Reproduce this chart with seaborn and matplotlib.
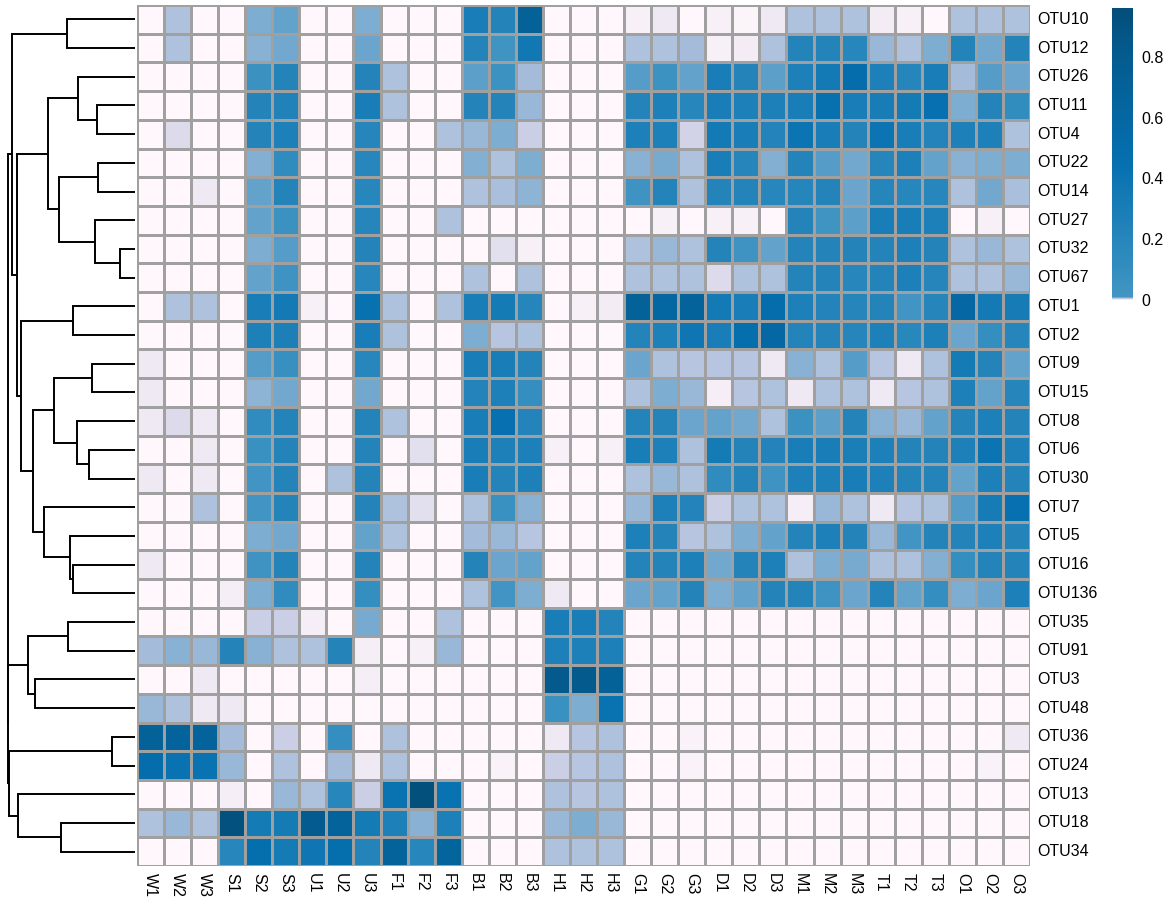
import matplotlib
matplotlib.use('Agg')
import matplotlib.pyplot as plt
import numpy as np
import pandas as pd
import seaborn as sns
from matplotlib.colors import LinearSegmentedColormap

sns.set_style('white')
plt.rcParams['font.family'] = ['Liberation Sans', 'DejaVu Sans']
plt.rcParams['text.color'] = 'black'
plt.rcParams['xtick.color'] = 'black'
plt.rcParams['ytick.color'] = 'black'

# samples (columns) and OTUs (rows, in dendrogram order)
samples = ['W1', 'W2', 'W3', 'S1', 'S2', 'S3', 'U1', 'U2', 'U3', 'F1', 'F2', 'F3',
           'B1', 'B2', 'B3', 'H1', 'H2', 'H3', 'G1', 'G2', 'G3', 'D1', 'D2', 'D3',
           'M1', 'M2', 'M3', 'T1', 'T2', 'T3', 'O1', 'O2', 'O3']
otus = ['OTU10', 'OTU12', 'OTU26', 'OTU11', 'OTU4', 'OTU22', 'OTU14', 'OTU27', 'OTU32',
        'OTU67', 'OTU1', 'OTU2', 'OTU9', 'OTU15', 'OTU8', 'OTU6', 'OTU30', 'OTU7', 'OTU5',
        'OTU16', 'OTU136', 'OTU35', 'OTU91', 'OTU3', 'OTU48', 'OTU36', 'OTU24', 'OTU13',
        'OTU18', 'OTU34']

# relative abundance, one row per OTU
#           W                  S                  U                  F                  B                  H                  G                  D                  M                  T                  O
abundance = [
    [0, .006, 0,       0, .008, .009,     0, 0, .008,        0, 0, 0,           .30, .22, .70,     0, 0, 0,           .001, .002, 0,     .001, .0005, .002, .006, .006, .006,  .0015, .001, 0,    .006, .006, .006],
    [0, .006, 0,       0, .0075, .0085,   0, 0, .0088,       0, 0, 0,           .22, .03, .36,     0, 0, 0,           .006, .006, .0065, .001, .0015, .006, .22, .22, .20,     .007, .006, .008,  .22, .0085, .22],
    [0, 0, 0,          0, .06, .22,       0, 0, .22,         .006, 0, 0,        .0092, .05, .0065, 0, 0, 0,           .0095, .05, .009,  .30, .22, .0093,   .27, .34, .50,     .27, .21, .30,     .0065, .0094, .0089],
    [0, 0, 0,          0, .22, .24,       0, 0, .30,         .006, 0, 0,        .22, .22, .007,    0, 0, 0,           .22, .27, .20,     .30, .27, .27,     .30, .44, .30,     .31, .33, .45,     .008, .22, .12],
    [0, .0035, 0,      0, .22, .26,       0, 0, .21,         0, 0, .006,        .007, .008, .0045, 0, 0, 0,           .27, .27, .004,    .34, .30, .23,     .40, .30, .22,     .40, .30, .23,     .27, .27, .006],
    [0, 0, 0,          0, .0078, .13,     0, 0, .20,         0, 0, 0,           .0078, .006, .008, 0, 0, 0,           .0075, .0084, .006, .30, .21, .0078, .22, .0094, .0085, .21, .27, .009,   .0075, .008, .008],
    [0, 0, .002,       0, .009, .22,      0, 0, .20,         0, 0, 0,           .006, .0062, .0073, 0, 0, 0,          .04, .22, .006,    .22, .22, .20,     .21, .22, .0088,   .21, .20, .20,     .006, .0086, .0063],
    [0, 0, 0,          0, .009, .06,      0, 0, .21,         0, 0, .006,        0, 0, 0,           0, 0, 0,           0, .001, 0,        .001, .001, 0,     .22, .03, .0093,   .30, .30, .27,     0, .001, 0],
    [0, 0, 0,          0, .008, .0094,    0, 0, .22,         0, 0, 0,           0, .003, .001,     0, 0, 0,           .006, .007, .006,  .22, .04, .009,    .22, .22, .22,     .22, .26, .22,     .006, .007, .006],
    [0, 0, 0,          0, .009, .04,      0, 0, .20,         0, 0, 0,           .006, 0, .006,     0, 0, 0,           .006, .006, .006,  .0035, .006, .006, .22, .22, .20,     .22, .26, .21,     .006, .006, .007],
    [0, .006, .006,    0, .30, .34,       .001, 0, .43,      .006, 0, .006,     .30, .33, .21,     0, .001, .0015,    .70, .60, .68,     .34, .30, .50,     .27, .23, .21,     .22, .02, .21,     .58, .34, .32],
    [0, 0, 0,          0, .27, .28,       0, 0, .30,         .006, 0, 0,        .008, .0055, .006, 0, 0, 0,           .22, .27, .38,     .30, .48, .58,     .22, .22, .21,     .27, .19, .27,     .0088, .10, .21],
    [.002, 0, 0,       0, .0094, .08,     0, 0, .20,         0, 0, 0,           .30, .30, .22,     0, 0, 0,           .0087, .006, .0055, .0055, .0055, .002, .0075, .006, .0094, .0055, .002, .006, .33, .22, .009],
    [.002, 0, 0,       0, .0074, .0086,   0, 0, .0086,       0, 0, 0,           .23, .27, .10,     0, 0, 0,           .006, .008, .007,  .0012, .0055, .006, .002, .006, .006,  .002, .0055, .006, .27, .009, .21],
    [.002, .0035, .002, 0, .13, .22,      0, 0, .22,         .006, 0, 0,        .30, .45, .23,     0, 0, 0,           .22, .22, .0087,   .009, .0086, .006, .06, .0093, .22,   .0075, .007, .009, .22, .26, .22],
    [0, 0, .002,       0, .07, .22,       0, 0, .22,         0, .003, 0,        .30, .27, .27,     .001, 0, .001,     .30, .27, .006,    .33, .22, .23,     .30, .30, .29,     .27, .22, .22,     .27, .40, .27],
    [.002, 0, .002,    0, .02, .22,       0, .006, .22,      0, 0, 0,           .30, .22, .26,     0, 0, 0,           .006, .0068, .006, .13, .22, .04,     .27, .26, .30,     .26, .22, .22,     .009, .26, .22],
    [0, 0, .006,       0, .02, .22,       0, 0, .22,         .006, .003, 0,     .006, .07, .0075,  0, 0, 0,           .007, .26, .23,    .0045, .006, .006, .0012, .007, .006, .002, .0055, .006, .0094, .32, .45],
    [0, 0, 0,          0, .008, .0086,    0, 0, .009,        .006, 0, 0,        .0065, .007, .0055, 0, 0, 0,          .27, .22, .0055,   .006, .008, .009,  .22, .26, .22,     .007, .02, .22,    .22, .26, .22],
    [.002, 0, 0,       0, .04, .22,       0, 0, .22,         0, 0, 0,           .22, .0087, .009,  0, 0, 0,           .22, .22, .26,     .0085, .22, .26,   .006, .008, .0084, .006, .006, .0078, .10, .22, .22],
    [0, 0, 0,          .0012, .008, .13,  0, 0, .10,         0, 0, 0,           .006, .02, .008,   .002, 0, 0,        .0088, .009, .22,  .008, .009, .22,   .22, .04, .0087,   .22, .009, .10,    .008, .0087, .26],
    [0, 0, 0,          0, .0045, .0045,   .0012, 0, .0084,   0, 0, .006,        0, 0, 0,           .30, .30, .22,     0, 0, 0,           0, 0, 0,           0, 0, 0,           0, 0, 0,           0, 0, 0],
    [.0065, .0075, .007, .22, .0075, .006, .006, .22, .0012, 0, .001, .007,     0, 0, 0,           .26, .26, .26,     0, 0, 0,           0, 0, 0,           0, 0, 0,           0, 0, 0,           0, 0, 0],
    [0, 0, .002,       0, 0, 0,           0, 0, .0012,       0, 0, 0,           0, 0, 0,           .82, .82, .70,     0, 0, 0,           0, 0, 0,           0, 0, 0,           0, 0, 0,           0, 0, 0],
    [.007, .006, .002, .002, 0, 0,        0, 0, 0,           0, 0, 0,           0, 0, 0,           .07, .008, .42,    0, 0, 0,           0, 0, 0,           0, 0, 0,           0, 0, 0,           0, 0, 0],
    [.70, .68, .68,    .0065, 0, .0045,   0, .10, 0,         .006, 0, 0,        0, 0, 0,           .002, .0055, .006, 0, 0, .0008,      0, 0, 0,           0, 0, 0,           0, 0, 0,           0, 0, .002],
    [.50, .42, .42,    .007, 0, .006,     0, .0065, .002,    .006, 0, 0,        0, .0008, 0,       .0045, .0055, .006, 0, 0, .0008,    0, 0, 0,           0, 0, 0,           0, 0, 0,           0, .0008, 0],
    [0, 0, 0,          .0012, 0, .007,    .006, .20, .0045,  .42, .93, .42,     0, 0, 0,           .006, .0055, .006, 0, 0, 0,          0, 0, 0,           0, 0, 0,           0, 0, 0,           0, 0, 0],
    [.006, .007, .006, .92, .33, .33,     .80, .68, .33,     .26, .0075, .26,   0, 0, 0,           .007, .008, .007,  0, 0, 0,           0, 0, 0,           0, 0, 0,           0, 0, 0,           0, 0, 0],
    [0, 0, 0,          .20, .47, .33,     .38, .47, .22,     .68, .20, .66,     0, 0, 0,           .006, .006, .006,  0, 0, 0,           0, 0, 0,           0, 0, 0,           0, 0, 0,           0, 0, 0],
]

# row clustering: (height, left, right), root height = 1
c_top = (0.534, 'OTU10', 'OTU12')
c_26 = (0.448, 'OTU26', (0.299, 'OTU11', 'OTU4'))
c_22 = (0.597, (0.291, 'OTU22', 'OTU14'), (0.314, 'OTU27', (0.118, 'OTU32', 'OTU67')))
c_9 = (0.636, (0.338, 'OTU9', 'OTU15'), (0.456, 'OTU8', (0.361, 'OTU6', 'OTU30')))
c_7 = (0.715, 'OTU7', (0.511, 'OTU5', (0.487, 'OTU16', 'OTU136')))
c_b = (0.896, (0.487, 'OTU1', 'OTU2'), (0.801, c_9, c_7))
c_e = (0.841, (0.526, 'OTU35', 'OTU91'), (0.786, 'OTU3', 'OTU48'))
c_cd = (0.992, (0.181, 'OTU36', 'OTU24'), (0.919, 'OTU13', (0.581, 'OTU18', 'OTU34')))
tree = (1.0, (0.969, c_top, (0.927, (0.683, c_26, c_22), c_b)), (0.995, c_e, c_cd))

VMAX = 0.96
cbar_ticks = [0, 0.2, 0.4, 0.6, 0.8]

# PuBu with the pale part squeezed into the lowest values
pubu = plt.get_cmap('PuBu')
knee = 0.01 / VMAX
stops = [(knee * t, pubu(0.6 * t)) for t in np.linspace(0, 1, 13)]
stops += [(knee + (1 - knee) * t, pubu(0.6 + 0.32 * t)) for t in np.linspace(0, 1, 20)[1:]]
cmap = LinearSegmentedColormap.from_list('pubu_knee', stops, N=4096)

df = pd.DataFrame(abundance, index=otus, columns=samples)

W, H = 1169, 906
fig = plt.figure(figsize=(W / 100, H / 100), dpi=100)


def box(x0, y0, x1, y1):
    return [x0 / W, 1 - y1 / H, (x1 - x0) / W, (y1 - y0) / H]


ax_heat = fig.add_axes(box(137, 5, 1030, 866))
ax_tree = fig.add_axes(box(0, 5, 137, 866))
ax_cbar = fig.add_axes(box(1112, 8, 1133, 300))

sns.heatmap(df, ax=ax_heat, cmap=cmap, vmin=0, vmax=VMAX,
            linewidths=0.9, linecolor='#a0a0a0',
            xticklabels=True, yticklabels=True,
            cbar_ax=ax_cbar, cbar_kws={'ticks': cbar_ticks})

ax_heat.yaxis.tick_right()
ax_heat.tick_params(length=0, labelsize=11.5, pad=5, colors='black')
ax_heat.set_yticklabels(otus, rotation=0, va='center', ha='left')
ax_heat.set_xticklabels(samples, rotation=270, va='top', ha='center')
ax_heat.set_xlabel('')
ax_heat.set_ylabel('')

ax_cbar.tick_params(length=0, labelsize=11.5, pad=6, colors='black')
ax_cbar.set_yticklabels(['0', '0.2', '0.4', '0.6', '0.8'])
for s in ax_cbar.spines.values():
    s.set_visible(False)
ax_heat.collections[0].colorbar.outline.set_visible(False)


# dendrogram
def draw(node):
    if isinstance(node, str):
        return otus.index(node) + 0.5, 0.0
    h, left, right = node
    y1, h1 = draw(left)
    y2, h2 = draw(right)
    ax_tree.plot([h1, h, h, h2], [y1, y1, y2, y2], color='black', lw=1.4,
                 solid_joinstyle='miter', solid_capstyle='butt')
    return (y1 + y2) / 2, h


draw(tree)
ax_tree.set_ylim(len(otus), 0)
ax_tree.set_xlim(135 / 127.3, -2 / 127.3)
ax_tree.axis('off')

fig.savefig('out.png', dpi=100)
